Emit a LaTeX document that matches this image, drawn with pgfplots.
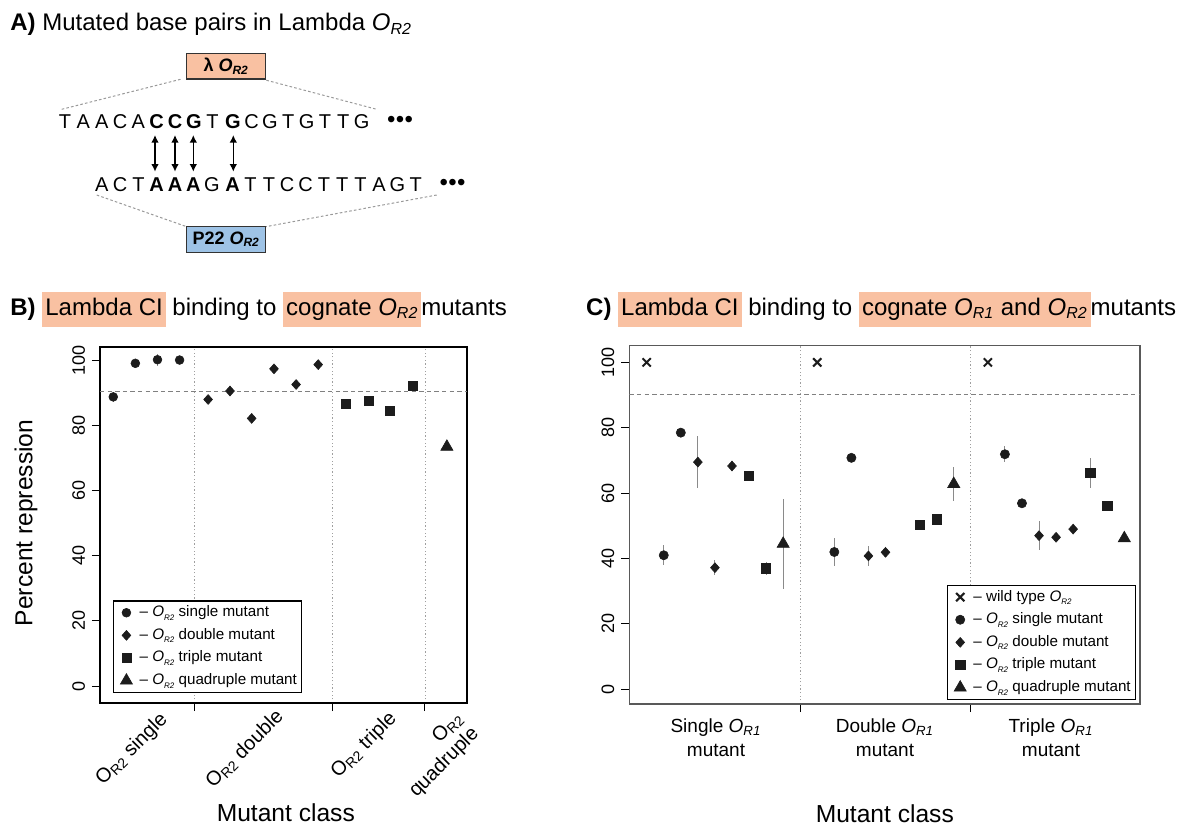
\documentclass[border=0pt]{standalone}
\usepackage{pgfplots}
\pgfplotsset{compat=1.18}
\usepackage{pgfplotstable}
\usepackage{fontspec}
\setmainfont{Liberation Sans}
\usetikzlibrary{arrows.meta}
\definecolor{hl}{HTML}{F9C1A2}
\definecolor{bluebox}{HTML}{9EC3E6}
\definecolor{mk}{HTML}{1C1C1C}
\definecolor{errc}{HTML}{8A8A8A}
\newcommand{\Osub}[1]{\textit{O}\textsubscript{\textit{#1}}}
\newcommand{\Ol}[1]{\textit{O}\raisebox{-0.45ex}{\fontsize{4}{4}\selectfont\textit{#1}}}
\newcommand{\hlb}[1]{{\setlength{\fboxsep}{1.5pt}\colorbox{hl}{\strut #1}}}

% Panel B data: x position, percent repression, error
\pgfplotstableread{
x y e
1 88.7 1.5
2 99.0 0.8
3 100.1 1.8
4 100.0 0.8
}\Bone
\pgfplotstableread{
x y e
5.29 87.9 0.8
6.28 90.5 0.8
7.26 82.1 0.8
8.27 97.3 0.8
9.27 92.5 1.5
10.27 98.6 1.5
}\Btwo
\pgfplotstableread{
x y e
11.53 86.5 1.5
12.56 87.4 0.8
13.52 84.5 1.5
14.55 92.0 1.2
}\Bthree
\pgfplotstableread{
x y e
16.09 73.4 0.8
}\Bfour
% Panel C data
\pgfplotstableread{
x y
0 100
10 100
20 100
}\Cwt
\pgfplotstableread{
x y e
1 41.0 3.0
2 78.5 1.0
11 42.0 4.2
12 70.8 0.8
21 71.9 2.5
22 56.9 1.0
}\Cone
\pgfplotstableread{
x y e
3 69.5 8.0
4 37.2 2.2
5 68.3 0.8
13 40.8 3.0
14 41.9 0.8
23 47.0 4.5
24 46.5 0.8
25 49.0 0.8
}\Ctwo
\pgfplotstableread{
x y e
6 65.3 1.6
7 37.0 2.0
16 50.3 1.0
17 52.0 1.5
26 66.2 4.6
27 56.1 1.0
}\Cthree
\pgfplotstableread{
x y e
8 44.5 13.8
18 62.8 5.2
28 46.2 0.8
}\Cfour

\pgfplotsset{
  panel/.style={scale only axis, tick align=outside, tick pos=left, major tick length=4pt,
    tick style={line width=0.5pt, black},
    ytick={0,20,40,60,80,100},
    yticklabel style={rotate=90, anchor=south, font=\fontsize{9}{10}\selectfont},
    /pgf/number format/assume math mode=true,
    xmajorgrids, grid style={gray!75, line width=0.4pt, dash pattern=on 0.6pt off 1.2pt},
    legend cell align=left,
  },
  pts/.style={only marks, mark options={fill=mk, draw=mk, line width=0.3pt},
    error bars/y dir=both, error bars/y explicit, error bars/error mark=none,
    error bars/error bar style={errc, line width=0.45pt}},
  dia/.style={mark=square*, mark size=1.55pt, mark options={fill=mk, draw=mk, line width=0.3pt, yscale=1.12, rotate=45}},
  legmk/.style={legend image code/.code={\draw[##1] plot coordinates {(0.18cm,0cm)};\path (0cm,0cm) (0.36cm,0cm);}},
  legsty/.style={draw=black, line width=0.6pt,
    font=\fontsize{7.6}{9}\selectfont, inner xsep=1pt, inner ysep=1.2pt, row sep=1.9pt,
    nodes={inner sep=1.2pt}},
}

\begin{document}
\begin{tikzpicture}
\path[use as bounding box] (0,0) rectangle (594.5pt,-412.5pt);

% ---------------- Panel B ----------------
\begin{axis}[panel, at={(50pt,-351.5pt)}, anchor=south west, width=183.5pt, height=178pt,
  xmin=0.4, xmax=17.0, ymin=-5.2, ymax=104,
  xtick={4.67,10.93,15.1}, xticklabels={},
  axis line style={black, line width=0.6pt},
  legend style={legsty, at={(0.0354,0.0281)}, anchor=south west}]
\addplot[forget plot, gray, line width=0.5pt, dash pattern=on 2.2pt off 1.6pt] coordinates {(0.4,90.3) (17,90.3)};
\addplot[pts, mark=*, mark size=2.2pt, legmk] table[x=x,y=y,y error=e]{\Bone};
\addlegendentry{-- \Ol{R2} single mutant}
\addplot[pts, dia, legmk] table[x=x,y=y,y error=e]{\Btwo};
\addlegendentry{-- \Ol{R2} double mutant}
\addplot[pts, mark=square*, mark size=2.3pt, legmk] table[x=x,y=y,y error=e]{\Bthree};
\addlegendentry{-- \Ol{R2} triple mutant}
\addplot[pts, mark=triangle*, mark size=3.5pt, legmk] table[x=x,y=y,y error=e]{\Bfour};
\addlegendentry{-- \Ol{R2} quadruple mutant}
\end{axis}

% ---------------- Panel C ----------------
\begin{axis}[panel, at={(314.65pt,-352pt)}, anchor=south west, width=255.35pt, height=179.15pt,
  xmin=-1.02, xmax=28.92, ymin=-4.5, ymax=105.1,
  xtick={9,19}, xticklabels={},
  axis line style={black!65, line width=0.6pt},
  legend style={legsty, at={(0.9916,0.0112)}, anchor=south east}]
\addplot[forget plot, gray, line width=0.5pt, dash pattern=on 2.2pt off 1.6pt] coordinates {(-1.02,90.2) (28.92,90.2)};
\addplot[only marks, mark=x, mark size=2.9pt, mark options={draw=mk, line width=1pt}, legmk] table[x=x,y=y]{\Cwt};
\addlegendentry{-- wild type \Ol{R2}}
\addplot[pts, mark=*, mark size=2.3pt, legmk] table[x=x,y=y,y error=e]{\Cone};
\addlegendentry{-- \Ol{R2} single mutant}
\addplot[pts, dia, legmk] table[x=x,y=y,y error=e]{\Ctwo};
\addlegendentry{-- \Ol{R2} double mutant}
\addplot[pts, mark=square*, mark size=2.3pt, legmk] table[x=x,y=y,y error=e]{\Cthree};
\addlegendentry{-- \Ol{R2} triple mutant}
\addplot[pts, mark=triangle*, mark size=3.5pt, legmk] table[x=x,y=y,y error=e]{\Cfour};
\addlegendentry{-- \Ol{R2} quadruple mutant}
\end{axis}

% ---------------- Annotations in pixel units ----------------
\begin{scope}[x=0.5pt, y=-0.5pt]
% Panel A
\node[anchor=base west, inner sep=0, font=\fontsize{12}{14.4}\selectfont] at (10,30.5)
  {\textbf{A)} Mutated base pairs in Lambda \Osub{R2}};
\draw[gray!80, line width=0.5pt, dash pattern=on 1.3pt off 1.1pt] (61.7,109.3) -- (181.7,79);
\draw[gray!80, line width=0.5pt, dash pattern=on 1.3pt off 1.1pt] (261.7,79) -- (376.7,109.3);
\draw[gray!80, line width=0.5pt, dash pattern=on 1.3pt off 1.1pt] (96.7,195) -- (186.7,226.7);
\draw[gray!80, line width=0.5pt, dash pattern=on 1.3pt off 1.1pt] (436.7,195) -- (265.7,226.7);
\node[draw=black!80, line width=0.6pt, fill=hl, minimum width=39.5pt, minimum height=12.85pt,
  inner sep=0, font=\bfseries\fontsize{9}{10}\selectfont] at (226.2,66.2) {λ \Osub{R2}};
\node[draw=black!80, line width=0.6pt, fill=bluebox, minimum width=39.5pt, minimum height=12.85pt,
  inner sep=0, font=\bfseries\fontsize{9}{10}\selectfont] at (226.2,239.5) {P22 \Osub{R2}};
\foreach \x/\l in {65/T, 83.3/A, 101.7/A, 120/C, 138.3/A, 156.7/\textbf{C}, 175/\textbf{C},
  194/\textbf{G}, 212.5/T, 233/\textbf{G}, 251.7/C, 270/G, 288.3/T, 306.7/G, 325/T, 343.3/T, 361.7/G}
  \node[anchor=base, inner sep=0, font=\fontsize{10}{11}\selectfont] at (\x,128.3) {\l};
\foreach \x/\l in {101.7/A, 120/C, 138.4/T, 156.7/\textbf{A}, 175/\textbf{A}, 193.4/\textbf{A},
  211.8/G, 232.5/\textbf{A}, 250.5/T, 268.9/T, 287.2/C, 305.6/C, 323.9/T, 342.3/T, 360.6/T,
  379/A, 397.3/G, 415.7/T}
  \node[anchor=base, inner sep=0, font=\fontsize{10}{11}\selectfont] at (\x,191.7) {\l};
\node[inner sep=0, font=\fontsize{12}{12}\selectfont] at (400,121.7) {•\hspace{0.2pt}•\hspace{0.2pt}•};
\node[inner sep=0, font=\fontsize{12}{12}\selectfont] at (452.5,185) {•\hspace{0.2pt}•\hspace{0.2pt}•};
\foreach \x in {155,175,193.3,233.3}
  \draw[{Latex[length=3.8pt,width=3.8pt]}-{Latex[length=3.8pt,width=3.8pt]}, line width=0.75pt] (\x,135) -- (\x,171.7);

% Panel B titles and labels
\node[anchor=base west, inner sep=0, font=\fontsize{12}{14.4}\selectfont] at (10,315)
  {\textbf{B)} \hlb{Lambda CI} binding to \hlb{cognate \Osub{R2}}mutants};
\node[rotate=90, font=\fontsize{12.3}{14}\selectfont] at (26,523) {Percent repression};
\node[font=\fontsize{12.3}{14}\selectfont] at (285.8,813) {Mutant class};
\node[rotate=45, anchor=north east, inner sep=0, font=\fontsize{10}{11}\selectfont] at (158,709.5) {O\textsubscript{R2} single};
\node[rotate=45, anchor=north east, inner sep=0, font=\fontsize{10}{11}\selectfont] at (274,707) {O\textsubscript{R2} double};
\node[rotate=45, anchor=north east, inner sep=0, font=\fontsize{10}{11}\selectfont] at (387,709) {O\textsubscript{R2} triple};
\node[rotate=45, anchor=north east, inner sep=0, align=right, font=\fontsize{10}{11}\selectfont] at (454,709) {O\textsubscript{R2}\\quadruple};

% Panel C titles and labels
\node[anchor=base west, inner sep=0, font=\fontsize{12}{14.4}\selectfont] at (585.8,315)
  {\textbf{C)} \hlb{Lambda CI} binding to \hlb{cognate \Osub{R1} and \Osub{R2}}mutants};
\node[anchor=north, align=center, inner sep=0, font=\fontsize{9.5}{12}\selectfont] at (716,718) {Single \Osub{R1}\\mutant};
\node[anchor=north, align=center, inner sep=0, font=\fontsize{9.5}{12}\selectfont] at (885,718) {Double \Osub{R1}\\mutant};
\node[anchor=north, align=center, inner sep=0, font=\fontsize{9.5}{12}\selectfont] at (1051,718) {Triple \Osub{R1}\\mutant};
\node[font=\fontsize{12.3}{14}\selectfont] at (884.8,814) {Mutant class};
\end{scope}
\end{tikzpicture}
\end{document}
